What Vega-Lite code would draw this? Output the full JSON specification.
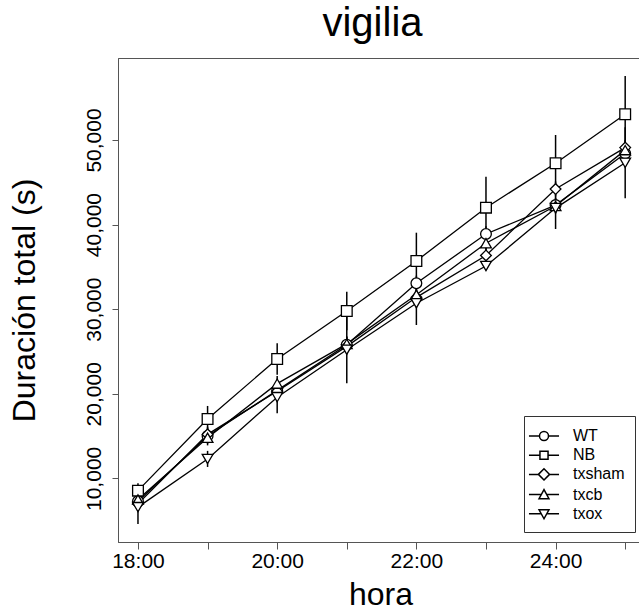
{
  "$schema": "https://vega.github.io/schema/vega-lite/v6.json",
  "autosize": "none",
  "width": 525,
  "height": 484,
  "padding": {"left": 118, "top": 58, "right": 0, "bottom": 73},
  "background": "white",
  "config": {
    "font": "Liberation Sans",
    "view": {"stroke": "#555", "strokeWidth": 1},
    "axis": {"grid": false, "domainColor": "#555", "tickColor": "#555", "labelColor": "black", "titleColor": "black", "labelFont": "Liberation Sans", "titleFont": "Liberation Sans", "titleFontWeight": "normal"}
  },
  "title": {"text": "vigilia", "fontSize": 40, "fontWeight": "normal", "font": "Liberation Sans", "color": "black", "anchor": "middle", "dx": -8, "offset": 14},
  "data": {
    "values": [
      {"hora": 18, "series": "WT", "v": 7300, "lo": 6400, "hi": 8200},
      {"hora": 19, "series": "WT", "v": 15000, "lo": 14100, "hi": 15900},
      {"hora": 20, "series": "WT", "v": 20400, "lo": 19500, "hi": 21300},
      {"hora": 21, "series": "WT", "v": 25800, "lo": 24900, "hi": 26700},
      {"hora": 22, "series": "WT", "v": 33060, "lo": 32160, "hi": 33960},
      {"hora": 23, "series": "WT", "v": 38890, "lo": 37990, "hi": 39790},
      {"hora": 24, "series": "WT", "v": 42300, "lo": 41400, "hi": 43200},
      {"hora": 25, "series": "WT", "v": 48400, "lo": 47500, "hi": 49300},
      {"hora": 18, "series": "NB", "v": 8550, "lo": 7680, "hi": 9420},
      {"hora": 19, "series": "NB", "v": 17020, "lo": 15480, "hi": 18560},
      {"hora": 20, "series": "NB", "v": 24110, "lo": 22250, "hi": 25970},
      {"hora": 21, "series": "NB", "v": 29790, "lo": 27510, "hi": 32070},
      {"hora": 22, "series": "NB", "v": 35700, "lo": 32360, "hi": 39040},
      {"hora": 23, "series": "NB", "v": 42000, "lo": 38340, "hi": 45660},
      {"hora": 24, "series": "NB", "v": 47250, "lo": 43910, "hi": 50590},
      {"hora": 25, "series": "NB", "v": 53040, "lo": 48510, "hi": 57570},
      {"hora": 18, "series": "txsham", "v": 7000, "lo": 6100, "hi": 7900},
      {"hora": 19, "series": "txsham", "v": 15200, "lo": 14300, "hi": 16100},
      {"hora": 20, "series": "txsham", "v": 20300, "lo": 19400, "hi": 21200},
      {"hora": 21, "series": "txsham", "v": 25600, "lo": 24700, "hi": 26500},
      {"hora": 22, "series": "txsham", "v": 31400, "lo": 30500, "hi": 32300},
      {"hora": 23, "series": "txsham", "v": 36350, "lo": 35450, "hi": 37250},
      {"hora": 24, "series": "txsham", "v": 44200, "lo": 43300, "hi": 45100},
      {"hora": 25, "series": "txsham", "v": 49100, "lo": 48200, "hi": 50000},
      {"hora": 18, "series": "txcb", "v": 7500, "lo": 6600, "hi": 8400},
      {"hora": 19, "series": "txcb", "v": 14800, "lo": 13900, "hi": 15700},
      {"hora": 20, "series": "txcb", "v": 21200, "lo": 20300, "hi": 22100},
      {"hora": 21, "series": "txcb", "v": 25900, "lo": 25000, "hi": 26800},
      {"hora": 22, "series": "txcb", "v": 31700, "lo": 30800, "hi": 32600},
      {"hora": 23, "series": "txcb", "v": 37800, "lo": 36900, "hi": 38700},
      {"hora": 24, "series": "txcb", "v": 42200, "lo": 41300, "hi": 43100},
      {"hora": 25, "series": "txcb", "v": 48800, "lo": 47900, "hi": 49700},
      {"hora": 18, "series": "txox", "v": 6600, "lo": 4610, "hi": 8590},
      {"hora": 19, "series": "txox", "v": 12300, "lo": 11350, "hi": 13250},
      {"hora": 20, "series": "txox", "v": 19600, "lo": 17700, "hi": 21500},
      {"hora": 21, "series": "txox", "v": 25200, "lo": 21240, "hi": 29160},
      {"hora": 22, "series": "txox", "v": 30700, "lo": 28130, "hi": 33270},
      {"hora": 23, "series": "txox", "v": 35100, "lo": 34600, "hi": 35600},
      {"hora": 24, "series": "txox", "v": 41950, "lo": 39480, "hi": 44420},
      {"hora": 25, "series": "txox", "v": 47300, "lo": 43110, "hi": 51490}
    ]
  },
  "encoding": {
    "x": {
      "field": "hora", "type": "quantitative",
      "scale": {"domain": [17.713, 25.256], "nice": false, "zero": false},
      "axis": {"title": "hora", "values": [18, 19, 20, 21, 22, 23, 24, 25], "labelExpr": "datum.value % 2 == 0 ? datum.value + ':00' : ''", "labelFontSize": 21, "tickSize": 7, "labelPadding": 1, "titleFontSize": 32, "titlePadding": 8, "labelFlush": false, "labelOverlap": false}
    },
    "y": {
      "field": "v", "type": "quantitative",
      "scale": {"domain": [2480, 59690], "nice": false, "zero": false},
      "axis": {"title": "Duración total (s)", "values": [10000, 20000, 30000, 40000, 50000], "format": ",d", "labelFontSize": 21, "labelAngle": -90, "labelAlign": "center", "labelBaseline": "alphabetic", "tickSize": 6, "labelPadding": 12, "titleFontSize": 32, "titlePadding": 42}
    }
  },
  "resolve": {"scale": {"shape": "independent"}, "legend": {"shape": "independent"}},
  "layer": [
    {
      "mark": {"type": "line", "color": "black", "strokeWidth": 1.3},
      "encoding": {"detail": {"field": "series"}}
    },
    {
      "mark": {"type": "rule", "color": "black", "strokeWidth": 1.5},
      "encoding": {"y": {"field": "lo", "type": "quantitative"}, "y2": {"field": "hi"}}
    },
    {
      "mark": {"type": "point", "filled": false, "color": "black", "fill": "white", "fillOpacity": 1, "stroke": "black", "strokeWidth": 1.3, "size": 115, "opacity": 1},
      "encoding": {
        "shape": {
          "field": "series", "type": "nominal",
          "scale": {"domain": ["WT", "NB", "txsham", "txcb", "txox"], "range": ["circle", "square", "diamond", "triangle-up", "triangle-down"]},
          "legend": null
        }
      }
    },
    {
      "transform": [{"filter": "datum.v < 0"}],
      "mark": {"type": "point", "filled": false, "color": "black", "strokeWidth": 1.2, "size": 324, "opacity": 1},
      "encoding": {
        "shape": {
          "field": "series", "type": "nominal",
          "scale": {"domain": ["WT", "NB", "txsham", "txcb", "txox"], "range": [
            "M-1.67,0L-0.5,0M0.5,0L1.67,0M0.5,0A0.5,0.5 0 1,1 -0.5,0A0.5,0.5 0 1,1 0.5,0Z",
            "M-1.67,0L-0.45,0M0.45,0L1.67,0M-0.45,-0.45L0.45,-0.45L0.45,0.45L-0.45,0.45Z",
            "M-1.67,0L-0.62,0M0.62,0L1.67,0M-0.62,0L0,-0.62L0.62,0L0,0.62Z",
            "M-1.67,0L-0.3,0M0.3,0L1.67,0M0,-0.55L-0.55,0.45L0.55,0.45Z",
            "M-1.67,0L-0.3,0M0.3,0L1.67,0M0,0.55L-0.55,-0.45L0.55,-0.45Z"
          ]},
          "legend": {
            "title": null, "orient": "none", "legendX": 406, "legendY": 358,
            "padding": 10, "strokeColor": "#333",
            "symbolSize": 324,
            "labelFontSize": 16, "labelFont": "Liberation Sans", "labelColor": "black", "labelOffset": 19, "rowPadding": 1.2
          }
        }
      }
    }
  ]
}
